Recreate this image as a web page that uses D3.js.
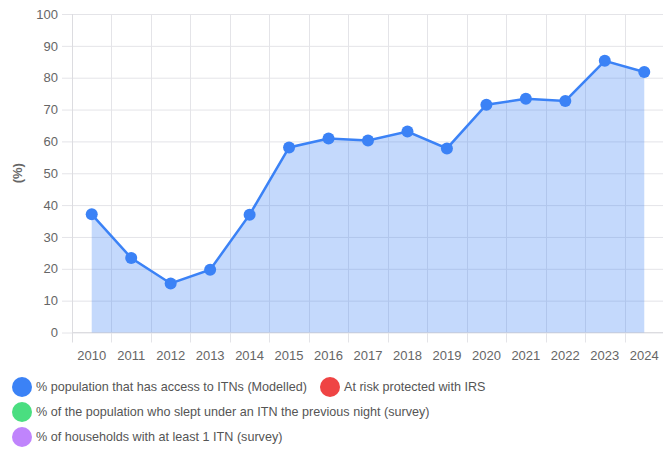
<!DOCTYPE html>
<html>
<head>
<meta charset="utf-8">
<script src="https://cdn.jsdelivr.net/npm/d3@7"></script>
<style>
  html, body { margin: 0; padding: 0; background: #fff; }
  svg { display: block; font-family: "Liberation Sans", Arial, Helvetica, sans-serif; }
</style>
</head>
<body>
<div id="chart"></div>
<script>
const years = ["2010","2011","2012","2013","2014","2015","2016","2017","2018","2019","2020","2021","2022","2023","2024"]
const itnAccess = [37.1, 23.4, 15.4, 19.7, 37.0, 58.1, 60.9, 60.3, 63.1, 57.8, 71.5, 73.4, 72.7, 85.3, 81.8]
const yTicks = [0, 10, 20, 30, 40, 50, 60, 70, 80, 90, 100]
const legendItems = [
  { name: "% population that has access to ITNs (Modelled)", color: "#3b82f6" },
  { name: "At risk protected with IRS", color: "#ef4444" },
  { name: "% of the population who slept under an ITN the previous night (survey)", color: "#4ade80" },
  { name: "% of households with at least 1 ITN (survey)", color: "#c084fc" }
]

const width = 663, height = 453
const margin = { top: 14, right: -1, bottom: 120, left: 72 }

const svg = d3.select("#chart").append("svg")
  .attr("width", width)
  .attr("height", height)

const x = d3.scaleBand()
  .domain(years)
  .range([margin.left, width - margin.right])

const y = d3.scaleLinear()
  .domain([0, 100])
  .range([height - margin.bottom - 0.5, margin.top])

const gridColor = "#e4e4e8"

// horizontal grid + y ticks
const yAxis = svg.append("g")
  .attr("transform", `translate(${margin.left},0)`)
  .call(d3.axisLeft(y).tickValues(yTicks).tickSize(10).tickPadding(4))
yAxis.select(".domain").remove()
yAxis.selectAll(".tick line")
  .attr("stroke", gridColor)
  .attr("x2", 0).attr("x1", -10)
yAxis.selectAll(".tick").append("line")
  .attr("x1", 0).attr("x2", width - margin.left)
  .attr("stroke", gridColor)
yAxis.selectAll(".tick text")
  .attr("fill", "#666")
  .attr("font-size", 13)

// vertical grid at band boundaries
const bounds = years.map(d => x(d)).concat([x(years[years.length - 1]) + x.bandwidth()])
svg.append("g")
  .selectAll("line")
  .data(bounds)
  .join("line")
  .attr("x1", d => Math.round(d) + 0.5)
  .attr("x2", d => Math.round(d) + 0.5)
  .attr("y1", margin.top)
  .attr("y2", y(0) + 10)
  .attr("stroke", (d, i) => i === 0 ? "#dcdce0" : gridColor)

// baseline
svg.append("line")
  .attr("x1", margin.left).attr("x2", width)
  .attr("y1", y(0)).attr("y2", y(0))
  .attr("stroke", "#dcdce0")

// x labels
svg.append("g")
  .selectAll("text")
  .data(years)
  .join("text")
  .attr("x", d => x(d) + x.bandwidth() / 2)
  .attr("y", y(0) + 27)
  .attr("text-anchor", "middle")
  .attr("fill", "#666")
  .attr("font-size", 13)
  .text(d => d)

// y title
svg.append("text")
  .attr("transform", `translate(22,${(y(0) + y(100)) / 2}) rotate(-90)`)
  .attr("text-anchor", "middle")
  .attr("fill", "#666")
  .attr("font-size", 13)
  .attr("font-weight", "bold")
  .text("(%)")

const data = years.map((d, i) => ({ year: d, value: itnAccess[i] }))
const cx = d => x(d.year) + x.bandwidth() / 2

const area = d3.area()
  .x(cx)
  .y0(y(0))
  .y1(d => y(d.value))

svg.append("path")
  .datum(data)
  .attr("d", area)
  .attr("fill", "rgba(59,130,246,0.3)")

const line = d3.line()
  .x(cx)
  .y(d => y(d.value))

svg.append("path")
  .datum(data)
  .attr("d", line)
  .attr("fill", "none")
  .attr("stroke", "#3b82f6")
  .attr("stroke-width", 2.5)

svg.append("g")
  .selectAll("circle")
  .data(data)
  .join("circle")
  .attr("cx", cx)
  .attr("cy", d => y(d.value))
  .attr("r", 6)
  .attr("fill", "#3b82f6")

// legend
const legendPos = [
  { x: 22, y: 387 },
  { x: 330, y: 387 },
  { x: 22, y: 412 },
  { x: 22, y: 437 }
]
const legend = svg.append("g")
  .selectAll("g")
  .data(legendItems)
  .join("g")
  .attr("transform", (d, i) => `translate(${legendPos[i].x},${legendPos[i].y})`)
legend.append("circle")
  .attr("r", 10)
  .attr("fill", d => d.color)
legend.append("text")
  .attr("x", 14)
  .attr("dy", "0.35em")
  .attr("fill", "#555")
  .attr("font-size", 12.6)
  .text(d => d.name)
</script>
</body>
</html>
